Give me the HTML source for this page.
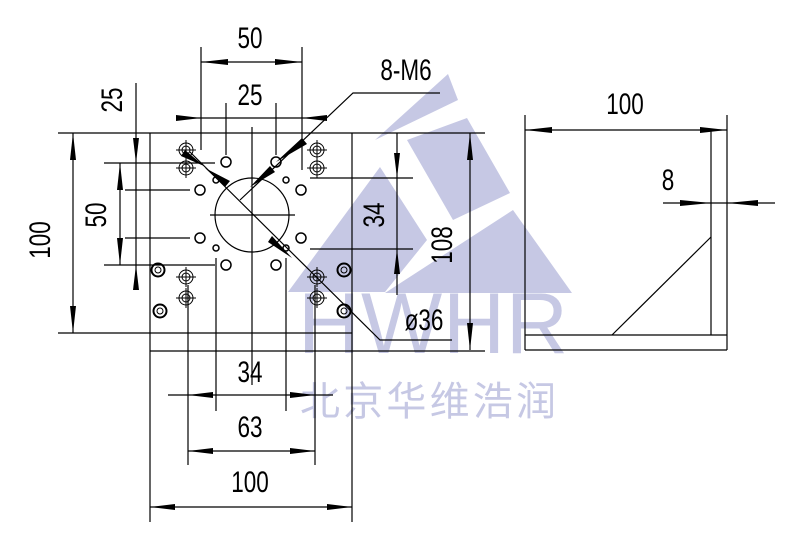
<!DOCTYPE html>
<html><head><meta charset="utf-8"><style>html,body{margin:0;padding:0;background:#fff}svg{display:block}</style></head><body>
<svg width="800" height="544" viewBox="0 0 800 544" xmlns="http://www.w3.org/2000/svg">
<defs>
<g id="cross"><circle r="7" fill="none" stroke="#000" stroke-width="1"/><circle r="4" fill="none" stroke="#000" stroke-width="1"/><line x1="-10" y1="0" x2="10" y2="0" stroke="#000" stroke-width="1"/><line x1="0" y1="-10" x2="0" y2="10" stroke="#000" stroke-width="1"/></g>
<g id="screw"><circle r="6.5" fill="none" stroke="#000" stroke-width="2"/><circle r="3" fill="none" stroke="#000" stroke-width="1"/></g>
</defs>
<!-- watermark -->
<g fill="#c6c8e4">
<polygon points="375,140 448,74 458,100"/>
<polygon points="407,140 467,118 510,193 453,220"/>
<polygon points="380,167 427,240 385,292 288,292"/>
<polygon points="513,210 572,293 385,293"/>
</g>
<text x="298" y="353" font-family="Liberation Sans, sans-serif" font-size="86" fill="#c6c8e4" textLength="270" lengthAdjust="spacing">HWHR</text>
<text x="300" y="415" font-family="Liberation Sans, 'Noto Sans CJK SC', sans-serif" font-size="40" fill="#c6c8e4" textLength="256">北京华维浩润</text>

<g stroke="#000" stroke-width="1.2" fill="none">
<!-- main lines -->
<line x1="58" y1="133" x2="485" y2="133"/>
<line x1="58" y1="333" x2="352" y2="333"/>
<line x1="150" y1="351" x2="485" y2="351"/>
<line x1="150" y1="133" x2="150" y2="522"/>
<line x1="352" y1="133" x2="352" y2="522"/>
<!-- centerlines/extension -->
<line x1="252" y1="127" x2="252" y2="385"/>
<line x1="201" y1="47" x2="201" y2="150"/>
<line x1="302" y1="47" x2="302" y2="170"/>
<line x1="226" y1="103" x2="226" y2="155"/>
<line x1="276" y1="103" x2="276" y2="155"/>
<line x1="136" y1="83" x2="136" y2="285"/>
<line x1="104" y1="163" x2="215" y2="163"/>
<line x1="104" y1="265" x2="215" y2="265"/>
<line x1="125" y1="190" x2="190" y2="190"/>
<line x1="125" y1="238" x2="190" y2="238"/>
<line x1="120" y1="163" x2="120" y2="265"/>
<line x1="73" y1="133" x2="73" y2="333"/>
<line x1="210" y1="215" x2="295" y2="215"/>
<circle cx="252" cy="215" r="37"/>
<line x1="188" y1="285" x2="188" y2="465"/>
<line x1="315" y1="285" x2="315" y2="465"/>
<line x1="216" y1="258" x2="216" y2="411"/>
<line x1="286" y1="258" x2="286" y2="411"/>
<!-- dims lines -->
<line x1="201" y1="62" x2="302" y2="62"/>
<line x1="178" y1="118" x2="325" y2="118"/>
<line x1="168" y1="395" x2="333" y2="395"/>
<line x1="188" y1="451" x2="315" y2="451"/>
<line x1="150" y1="507" x2="352" y2="507"/>
<line x1="397" y1="133" x2="397" y2="295"/>
<line x1="310" y1="178" x2="413" y2="178"/>
<line x1="310" y1="249" x2="413" y2="249"/>
<line x1="470" y1="133" x2="470" y2="350"/>
<!-- leaders -->
<polyline points="440,93 353,93 240,200"/>
<polyline points="452,340 380,340 190,152"/>
<!-- right view -->
<line x1="525" y1="115" x2="525" y2="350"/>
<line x1="727" y1="115" x2="727" y2="350"/>
<line x1="711" y1="130" x2="711" y2="335"/>
<line x1="525" y1="335" x2="727" y2="335"/>
<line x1="525" y1="350" x2="727" y2="350"/>
<line x1="525" y1="130" x2="727" y2="130"/>
<line x1="663" y1="203" x2="775" y2="203"/>
<line x1="612" y1="335" x2="711" y2="237"/>
<!-- small holes -->
<g stroke-width="1.5">
<circle cx="226" cy="162" r="5"/><circle cx="276" cy="162" r="5"/>
<circle cx="200" cy="190" r="5"/><circle cx="301" cy="190" r="5"/>
<circle cx="200" cy="238" r="5"/><circle cx="301" cy="238" r="5"/>
<circle cx="226" cy="265" r="5"/><circle cx="276" cy="265" r="5"/>
<circle cx="216" cy="180" r="3"/><circle cx="286" cy="180" r="3"/>
<circle cx="216" cy="248" r="3"/><circle cx="286" cy="248" r="3"/>
</g>
</g>
<use href="#cross" x="186" y="150"/><use href="#cross" x="186" y="168"/>
<use href="#cross" x="317" y="150"/><use href="#cross" x="317" y="168"/>
<use href="#cross" x="186" y="277"/><use href="#cross" x="186" y="298"/>
<use href="#cross" x="317" y="277"/><use href="#cross" x="317" y="298"/>
<use href="#screw" x="158" y="270"/><use href="#screw" x="160" y="311"/>
<use href="#screw" x="344" y="270"/><use href="#screw" x="344" y="311"/>
<!-- arrows -->
<g fill="#000">
<polygon points="201,62 228,59 228,65"/><polygon points="302,62 275,59 275,65"/>
<polygon points="201,118 176,115 176,121"/><polygon points="302,118 327,115 327,121"/>
<polygon points="188,395 213,392 213,398"/><polygon points="315,395 290,392 290,398"/>
<polygon points="188,451 213,448 213,454"/><polygon points="315,451 290,448 290,454"/>
<polygon points="150,507 175,504 175,510"/><polygon points="352,507 327,504 327,510"/>
<polygon points="525,130 552,127 552,133"/><polygon points="727,130 700,127 700,133"/>
<polygon points="711,203 680,200 680,206"/><polygon points="727,203 758,200 758,206"/>
<polygon points="73,133 70,160 76,160"/><polygon points="73,333 70,306 76,306"/>
<polygon points="136,163 133,138 139,138"/><polygon points="136,265 133,290 139,290"/>
<polygon points="120,163 117,190 123,190"/><polygon points="120,265 117,238 123,238"/>
<polygon points="397,178 394,153 400,153"/><polygon points="397,249 394,274 400,274"/>
<polygon points="470,133 467,160 473,160"/><polygon points="470,350 467,323 473,323"/>
<polygon points="276,162 302,138 307,144"/><polygon points="250,187 270,166 275,172"/>
<polygon points="204,166 185,150 181,156" transform="rotate(0)"/>
<polygon points="292,258 272,236 268,242"/>
<polygon points="205,168 225,187 230,181"/>
</g>
<!-- text -->
<g font-family="Liberation Sans, sans-serif" font-size="30" fill="#000" text-anchor="middle">
<text transform="translate(250,48) scale(0.75,1)">50</text>
<text transform="translate(250,105) scale(0.75,1)">25</text>
<text transform="translate(406,80) scale(0.75,1)">8-M6</text>
<text transform="translate(250,382) scale(0.75,1)">34</text>
<text transform="translate(250,437) scale(0.75,1)">63</text>
<text transform="translate(250,492) scale(0.75,1)">100</text>
<text transform="translate(625,114) scale(0.75,1)">100</text>
<text transform="translate(668,190) scale(0.75,1)">8</text>
<text transform="translate(424,330) scale(0.75,1)">ø36</text>
<text transform="translate(50,240) rotate(-90) scale(0.75,1)">100</text>
<text transform="translate(106,215) rotate(-90) scale(0.75,1)">50</text>
<text transform="translate(122,100) rotate(-90) scale(0.75,1)">25</text>
<text transform="translate(384,215) rotate(-90) scale(0.75,1)">34</text>
<text transform="translate(452,245) rotate(-90) scale(0.75,1)">108</text>
</g>
</svg>
</body></html>
